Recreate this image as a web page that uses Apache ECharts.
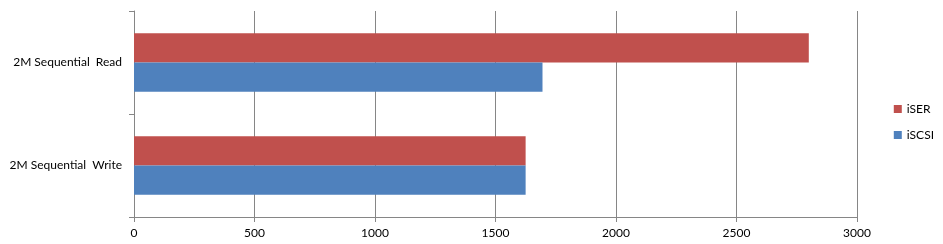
<!DOCTYPE html>
<html><head><meta charset="utf-8">
<script src="https://cdn.jsdelivr.net/npm/echarts@6/dist/echarts.min.js"></script>
<style>html,body{margin:0;padding:0;background:#fff}#c{width:943px;height:244px}</style>
</head><body><div id="c"></div>
<script>
const categories = ['2M Sequential  Write', '2M Sequential  Read'];
const iscsiValues = [1625, 1695];
const iserValues = [1625, 2800];
const xTicks = [0, 500, 1000, 1500, 2000, 2500, 3000];

const font = 'Lato';
const chart = echarts.init(document.getElementById('c'), null, {renderer: 'canvas'});
chart.setOption({
  animation: false,
  textStyle: {fontFamily: font},
  grid: {left: 134, right: 86, top: 11, bottom: 27, containLabel: false},
  legend: {
    orient: 'vertical', right: 4, top: 'middle',
    data: ['iSER', 'iSCSI'],
    itemWidth: 8, itemHeight: 8, itemGap: 14,
    icon: 'rect',
    textStyle: {fontFamily: font, fontSize: 12, color: '#000'}
  },
  xAxis: {
    type: 'value', min: xTicks[0], max: xTicks[xTicks.length-1], interval: 500,
    axisLine: {show: true, lineStyle: {color: '#868686'}},
    axisTick: {show: true, length: 5, lineStyle: {color: '#868686'}},
    splitLine: {show: true, lineStyle: {color: '#868686'}},
    axisLabel: {fontFamily: font, fontSize: 12, color: '#000', margin: 10, formatter: v => String(v)}
  },
  yAxis: {
    type: 'category', data: categories,
    axisLine: {show: true, lineStyle: {color: '#868686'}},
    axisTick: {show: true, length: 5, lineStyle: {color: '#868686'}},
    axisLabel: {fontFamily: font, fontSize: 12, color: '#000', margin: 12}
  },
  series: [
    {name: 'iSER', type: 'bar', data: iserValues, itemStyle: {color: '#C0504D'}, barGap: '0%', barCategoryGap: '43%'},
    {name: 'iSCSI', type: 'bar', data: iscsiValues, itemStyle: {color: '#4F81BD'}, barGap: '0%', barCategoryGap: '43%'}
  ]
});
</script></body></html>
